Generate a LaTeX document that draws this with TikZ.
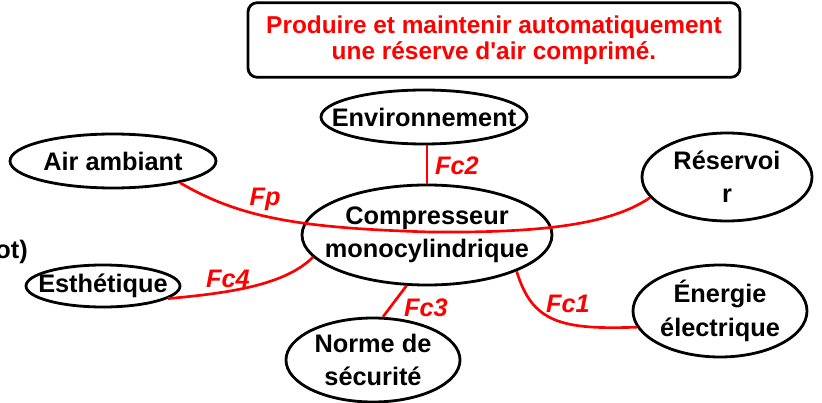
\documentclass[tikz,border=0pt]{standalone}
\usepackage{fontspec}
\setmainfont{Liberation Sans}
\usetikzlibrary{shapes,positioning}
\tikzset{>=latex}
\definecolor{fcred}{rgb}{1.0,0.0,0.0}
\tikzset{
  milieu/.style={ellipse, draw, line width=2.1pt, inner sep=0pt},
  nom/.style={font=\fontsize{19}{25}\selectfont\bfseries, align=center, inner sep=0pt},
  fonction/.style={draw=fcred, line width=2pt},
  etiq/.style={text=fcred, font=\fontsize{19}{22}\selectfont\bfseries\itshape, inner sep=0pt},
}

\begin{document}
\begin{tikzpicture}[x=0.75pt,y=-0.75pt]
      \useasboundingbox (0,0) rectangle (822,403);
      % besoin
      \node[draw, line width=2.1pt, rounded corners=7pt, minimum width=369pt, minimum height=56pt,
            text=fcred, font=\fontsize{18.3}{19.5}\selectfont\bfseries, align=center] (besoin) at (494,40)
            {Produire et maintenir automatiquement\\une réserve d\textquotesingle air comprimé.};
      % fragment coupe a gauche
      \node[nom, anchor=base east] (bord) at (28,258) {ot)};
      % milieux exterieurs
      \node[milieu, minimum width=187.5pt, minimum height=75pt,
            label={[nom]center:Compresseur\\monocylindrique}] (comp) at (427,235) {};
      \node[milieu, minimum width=154.5pt, minimum height=40.5pt,
            label={[nom]center:Environnement}] (env) at (424,117) {};
      \node[milieu, minimum width=154.5pt, minimum height=40.5pt,
            label={[nom]center:Air ambiant}] (air) at (113,161) {};
      \node[milieu, minimum width=127.5pt, minimum height=66pt,
            label={[nom]center:Réservoi\\r}] (res) at (727,177) {};
      \node[milieu, minimum width=115.5pt, minimum height=31.5pt,
            label={[nom]center:Esthétique}] (esth) at (103,286) {};
      \node[milieu, minimum width=130.5pt, minimum height=63pt,
            label={[nom]center:Norme de\\sécurité}] (norme) at (373,360) {};
      \node[milieu, minimum width=130.5pt, minimum height=69pt,
            label={[nom]center:Énergie\\électrique}] (ener) at (720,311) {};
      % fonctions
      \coordinate (mp) at (430,232);
      \draw[fonction] (air.-18) .. controls (240,218) and (300,228) .. (mp)
            .. controls (540,233) and (610,225) .. (res.195);
      \draw[fonction] (comp.north) -- (comp.north |- env.south);
      \draw[fonction] (esth.-11) .. controls (230,293) and (285,285) .. (comp.191);
      \draw[fonction] (norme.77) -- (comp.-112);
      \draw[fonction] (comp.-22) .. controls (532,322) and (560,330) .. (ener.191);
      % reperes
      \node[etiq] (lfp) at (265,199) {Fp};
      \node[etiq] (lfc2) at (457,166) {Fc2};
      \node[etiq] (lfc4) at (228,279) {Fc4};
      \node[etiq] (lfc3) at (426,308) {Fc3};
      \node[etiq] (lfc1) at (568,304) {Fc1};
\end{tikzpicture}
\end{document}
